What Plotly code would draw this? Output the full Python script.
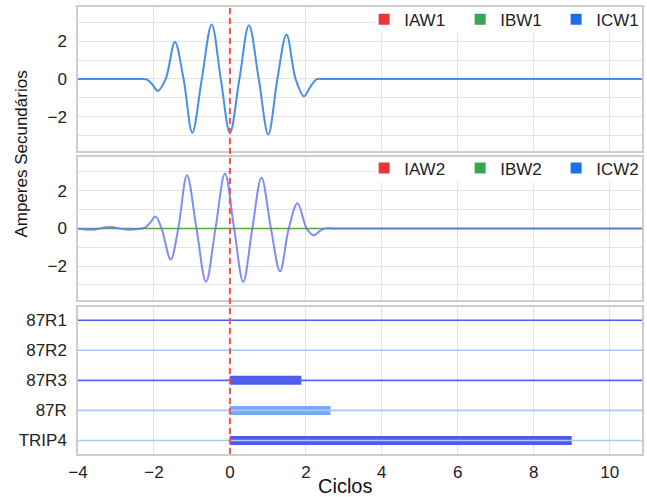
import plotly.graph_objects as go

# ---------------- data ----------------
x_range = [-4, 10.85]
flat_x = [-4, 10.85]
flat_y = [0, 0]

icw1_x = [-4, -2.8, -2.55, -2.33, -2.18, -2.04, -1.90, -1.69, -1.45, -1.22, -0.99, -0.74, -0.48, -0.24, 0.0,
          0.25, 0.50, 0.76, 1.01, 1.25, 1.49, 1.73, 1.95, 2.12, 2.28, 2.45, 2.7, 10.85]
icw1_y = [0, 0, 0, 0, -0.03, -0.3, -0.63, 0, 1.95, 0, -2.84, 0, 2.88, 0, -2.84,
          0, 2.84, 0, -2.93, 0, 2.35, 0, -0.91, -0.4, -0.02, 0, 0, 0]

icw2_x = [-4, -3.63, -3.18, -2.68, -2.24, -2.10, -1.96, -1.80, -1.56, -1.36, -1.13, -0.88, -0.63,
          -0.38, -0.13, 0.11, 0.35, 0.59, 0.83, 1.08, 1.32, 1.55, 1.78, 2.02, 2.21, 2.38,
          2.53, 2.7, 2.9, 10.85]
icw2_y = [-0.02, -0.07, 0.07, -0.07, 0.04, 0.3, 0.63, 0, -1.65, 0, 2.82, 0, -2.84,
          0, 2.91, 0, -2.84, 0, 2.68, 0, -2.28, 0, 1.33, 0, -0.37, -0.12,
          0, 0, 0, 0]

legend1_names = ["IAW1", "IBW1", "ICW1"]
legend2_names = ["IAW2", "IBW2", "ICW2"]
legend_colors = ["#ee3535", "#34a853", "#1a6ff0"]

channels = ["87R1", "87R2", "87R3", "87R", "TRIP4"]
channel_pos = [4, 3, 2, 1, 0]
on_start = [None, None, 0, 0, 0]
on_end = [None, None, 1.88, 2.65, 9.0]
line_colors = ["#4a5cf2", "#a9c6fa", "#5566ee", "#a9c6fa", "#b3c5fb"]
bar_colors = ["#4a5cf2", "#a9c6fa", "#4d5cf0", "#74aaf7", "#4b5bf1"]

xticks = [-4, -2, 0, 2, 4, 6, 8, 10]
yticks = [-2, 0, 2]

# ---------------- figure ----------------
FONT = "Liberation Sans, Arial, sans-serif"
GRID = "#e3e3e3"
BORDER = "#cdcdcd"
TICKFONT = dict(size=17, color="#222", family=FONT)

fig = go.Figure()

# panel 1
fig.add_trace(go.Scatter(x=icw1_x, y=icw1_y, mode="lines", line=dict(color="#4a8fe6", width=2, shape="spline", smoothing=1.0),
                         showlegend=False, xaxis="x", yaxis="y"))

# panel 2
fig.add_trace(go.Scatter(x=flat_x, y=flat_y, mode="lines", line=dict(color="#5aa842", width=1.5),
                         showlegend=False, xaxis="x2", yaxis="y2"))
fig.add_trace(go.Scatter(x=icw2_x, y=icw2_y, mode="lines", line=dict(color="rgba(95,112,245,0.8)", width=2, shape="spline", smoothing=1.0),
                         showlegend=False, xaxis="x2", yaxis="y2"))

# legend entries
for name, col in zip(legend1_names, legend_colors):
    fig.add_trace(go.Scatter(x=[None], y=[None], mode="markers", name=name,
                             marker=dict(symbol="square", size=11, color=col),
                             legend="legend", xaxis="x", yaxis="y"))
for name, col in zip(legend2_names, legend_colors):
    fig.add_trace(go.Scatter(x=[None], y=[None], mode="markers", name=name,
                             marker=dict(symbol="square", size=11, color=col),
                             legend="legend2", xaxis="x2", yaxis="y2"))

# panel 3 digital channels
for ch, pos, lc in zip(channels, channel_pos, line_colors):
    fig.add_trace(go.Scatter(x=flat_x, y=[pos, pos], mode="lines", line=dict(color=lc, width=1.6),
                             showlegend=False, xaxis="x3", yaxis="y3"))
for ch, pos, s, e, bc in zip(channels, channel_pos, on_start, on_end, bar_colors):
    if s is None:
        continue
    fig.add_trace(go.Bar(y=[pos], x=[e - s], base=[s], orientation="h", width=0.3,
                         marker=dict(color=bc, line=dict(width=0)),
                         showlegend=False, xaxis="x3", yaxis="y3"))

# domains (paper fractions)
d3 = [0.0, 0.3295]
d2 = [0.3445, 0.665]
d1 = [0.678, 1.0]

xcommon = dict(range=x_range, showgrid=True, gridcolor=GRID, gridwidth=1, zeroline=False,
               tickvals=xticks, showline=True, mirror=True, linecolor=BORDER, linewidth=1.5,
               fixedrange=True)
ycommon = dict(range=[-3.8, 3.8], tickvals=yticks, showgrid=True, gridcolor=GRID, zeroline=False,
               minor=dict(dtick=1, tick0=0, showgrid=True, gridcolor=GRID, gridwidth=1),
               showline=True, mirror=True, linecolor=BORDER, linewidth=1.5,
               ticks="outside", ticklen=6, tickcolor="rgba(0,0,0,0)", tickfont=TICKFONT)

legend_common = dict(orientation="h", xanchor="right", x=1.018, yanchor="middle",
                     bgcolor="rgba(0,0,0,0)", font=dict(size=17, color="#222", family=FONT),
                     entrywidth=51, borderwidth=0)

fig.update_layout(
    width=647, height=497,
    margin=dict(l=78, r=5, t=7, b=43, autoexpand=False),
    paper_bgcolor="white", plot_bgcolor="white",
    font=dict(family=FONT, size=16, color="#222"),
    barmode="overlay",
    xaxis=dict(**xcommon, anchor="y", showticklabels=False, ticks=""),
    xaxis2=dict(**xcommon, anchor="y2", showticklabels=False, ticks="", matches="x"),
    xaxis3=dict(**xcommon, anchor="y3", matches="x", ticks="outside", ticklen=2,
                tickcolor="rgba(0,0,0,0)", tickfont=TICKFONT),
    yaxis=dict(**ycommon, domain=d1, anchor="x"),
    yaxis2=dict(**ycommon, domain=d2, anchor="x2"),
    yaxis3=dict(domain=d3, anchor="x3", range=[-0.45, 4.45], tickvals=channel_pos, ticktext=channels,
                showgrid=False, zeroline=False, showline=True, mirror=True, linecolor=BORDER, linewidth=1.5,
                ticks="outside", ticklen=6, tickcolor="rgba(0,0,0,0)", tickfont=TICKFONT),
    legend=dict(**legend_common, y=0.9716),
    legend2=dict(**legend_common, y=0.639),
    shapes=[
        dict(type="rect", xref="x", yref="y", x0=3.82, x1=10.85, y0=2.46, y1=3.8,
             fillcolor="white", line=dict(width=0), layer="between"),
        dict(type="rect", xref="x2", yref="y2", x0=3.82, x1=10.85, y0=2.46, y1=3.8,
             fillcolor="white", line=dict(width=0), layer="between"),
        dict(type="line", xref="x", yref="paper", x0=0, x1=0, y0=0, y1=1,
             line=dict(color="#ff4d4d", width=2, dash="6px,4px"), layer="above"),
    ],
    annotations=[
        dict(text="Amperes Secundários", xref="paper", yref="paper", x=-0.0993, y=0.672,
             xanchor="center", yanchor="middle", textangle=-90, showarrow=False,
             font=dict(size=17, color="#111", family=FONT)),
        dict(text="Ciclos", xref="paper", yref="paper", x=0.473, y=-0.0716,
             xanchor="center", yanchor="middle", showarrow=False,
             font=dict(size=20, color="#111", family=FONT)),
    ],
)

fig.write_html("out.html", config={"displayModeBar": False},
               post_script="document.body.style.margin='0';document.body.style.overflow='hidden';")
